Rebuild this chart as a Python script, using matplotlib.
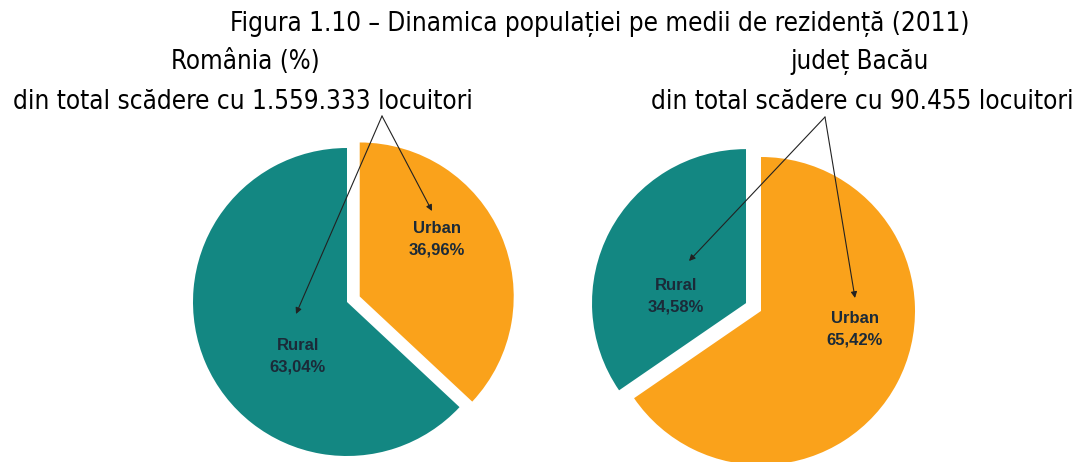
import matplotlib
matplotlib.use("Agg")
import matplotlib.pyplot as plt

# data
labels_ro = ["Urban", "Rural"]
values_ro = [36.96, 63.04]
labels_bc = ["Rural", "Urban"]
values_bc = [34.58, 65.42]

title = "Figura 1.10 – Dinamica populației pe medii de rezidență (2011)"
sub_ro = ["România (%)", "din total scădere cu 1.559.333 locuitori"]
sub_bc = ["județ Bacău", "din total scădere cu 90.455 locuitori"]

TEAL = "#138782"
ORANGE = "#FAA21B"
TXT = "#1b2a38"

W, H = 1077, 462
fig = plt.figure(figsize=(W / 100, H / 100), dpi=100)
ax = fig.add_axes([0, 0, 1, 1])

R = 154


def fmt(v):
    return f"{v:.2f}".replace(".", ",") + "%"


# Romania pie: urban clockwise from 12 o'clock, pulled out
ax.pie(values_ro, colors=[ORANGE, TEAL], startangle=90, counterclock=False,
       explode=[0.09 * R, 0], radius=R, center=(347, H - 302),
       wedgeprops=dict(linewidth=0), frame=True)

# Bacau pie: rural counter-clockwise from 12 o'clock, pulled out
ax.pie(values_bc, colors=[TEAL, ORANGE], startangle=90, counterclock=True,
       explode=[0.11 * R, 0], radius=R, center=(761, H - 311),
       wedgeprops=dict(linewidth=0), frame=True)
ax.set_xlim(0, W)
ax.set_ylim(0, H)
ax.set_aspect("equal")
ax.axis("off")

# slice labels
slice_txt = [
    (labels_ro[0], values_ro[0], 437, 239),
    (labels_ro[1], values_ro[1], 298, 356),
    (labels_bc[0], values_bc[0], 676, 296),
    (labels_bc[1], values_bc[1], 855, 329),
]
for name, v, x, y in slice_txt:
    ax.text(x, H - y, f"{name}\n{fmt(v)}", ha="center", va="center",
            fontsize=12, fontweight="bold", color=TXT,
            family="Liberation Sans", linespacing=1.55)

# arrows from subtitle to slices
arrows = [
    ((382, 116), (432, 211)),
    ((382, 116), (296, 314)),
    ((825, 117), (689, 261)),
    ((825, 117), (855, 298)),
]
for (x0, y0), (x1, y1) in arrows:
    ax.annotate("", xy=(x1, H - y1), xytext=(x0, H - y0),
                arrowprops=dict(arrowstyle="-|>", color="#222222", lw=0.8,
                                mutation_scale=9, shrinkA=0, shrinkB=0))

head = dict(ha="center", va="center", family="DejaVu Sans",
            fontstretch="condensed")
fig.text(600 / W, 1 - 24 / H, title, fontsize=18.7, **head)
fig.text(245 / W, 1 - 62 / H, sub_ro[0], fontsize=18.5, **head)
fig.text(243 / W, 1 - 102 / H, sub_ro[1], fontsize=18.7, **head)
fig.text(860 / W, 1 - 62 / H, sub_bc[0], fontsize=18.5, **head)
fig.text(862 / W, 1 - 102 / H, sub_bc[1], fontsize=18.7, **head)

fig.savefig("out.png", dpi=100, facecolor="white")
